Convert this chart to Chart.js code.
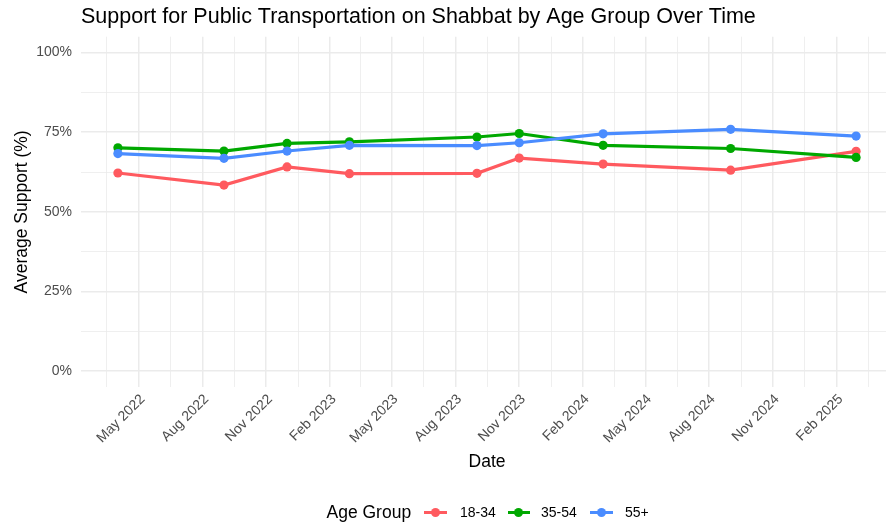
<!DOCTYPE html>
<html>
<head>
<meta charset="utf-8">
<script src="https://cdn.jsdelivr.net/npm/chart.js@4.4.1/dist/chart.umd.min.js"></script>
<style>
  html, body { margin: 0; padding: 0; background: #ffffff; }
  #wrap { position: relative; width: 886px; height: 524px; overflow: hidden; }
  #c { position: absolute; left: 0; top: 0; }
  .lg { position: absolute; font-family: "Liberation Sans", Arial, sans-serif; color: #000; white-space: nowrap; }
  .lg-title { font-size: 17.5px; line-height: 20px; top: 502px; }
  .lg-text { font-size: 14px; line-height: 16px; top: 504px; }
  .lg-line { position: absolute; height: 3px; top: 510.5px; width: 22.4px; }
  .lg-dot { position: absolute; width: 9px; height: 9px; border-radius: 50%; top: 507.5px; }
</style>
</head>
<body>
<div id="wrap">
  <canvas id="c" width="900" height="524"></canvas>
  <div id="legend"></div>
</div>
<script>
// ---- data ----
const dates = ['2022-04-01','2022-09-01','2022-12-01','2023-03-01','2023-09-01','2023-11-01','2024-03-01','2024-09-01','2025-03-01'];
const groups = ['18-34', '35-54', '55+'];
const support_18_34 = [62.2, 58.4, 64.1, 62.0, 62.1, 66.9, 65.0, 63.1, 69.0];
const support_35_54 = [70.1, 69.1, 71.5, 72.0, 73.5, 74.6, 70.9, 69.9, 67.1];
const support_55plus = [68.3, 66.8, 69.1, 70.9, 70.8, 71.7, 74.5, 75.9, 73.8];
const tickDates = ['2022-05-01','2022-08-01','2022-11-01','2023-02-01','2023-05-01','2023-08-01','2023-11-01','2024-02-01','2024-05-01','2024-08-01','2024-11-01','2025-02-01'];
const tickLabels = ['May 2022','Aug 2022','Nov 2022','Feb 2023','May 2023','Aug 2023','Nov 2023','Feb 2024','May 2024','Aug 2024','Nov 2024','Feb 2025'];
const yTickValues = [0, 25, 50, 75, 100];
const colors = ['#FF5A5F', '#00A800', '#4A8CFF'];

// ---- helpers ----
const toDay = s => Date.parse(s + 'T00:00:00Z') / 86400000;
const xs = dates.map(toDay);
const series = [support_18_34, support_35_54, support_55plus];
const xMinData = xs[0], xMaxData = xs[xs.length - 1];
const xPad = (xMaxData - xMinData) * 0.05;
const xMin = xMinData - xPad, xMax = xMaxData + xPad;
const yMin = -5, yMax = 105;

const majorX = tickDates.map(toDay);
const extX = [2 * majorX[0] - majorX[1], ...majorX, 2 * majorX[majorX.length - 1] - majorX[majorX.length - 2]];
const minorX = [];
for (let i = 0; i < extX.length - 1; i++) minorX.push((extX[i] + extX[i + 1]) / 2);
const xTicks = [];
majorX.forEach((v, i) => xTicks.push({ value: v, major: true, label: tickLabels[i] }));
minorX.filter(v => v > xMin && v < xMax).forEach(v => xTicks.push({ value: v, major: false, label: '' }));
xTicks.sort((a, b) => a.value - b.value);

const yTicks = [];
yTickValues.forEach(v => yTicks.push({ value: v, major: true, label: v + '%' }));
for (let i = 0; i < yTickValues.length - 1; i++) yTicks.push({ value: (yTickValues[i] + yTickValues[i + 1]) / 2, major: false, label: '' });
yTicks.sort((a, b) => a.value - b.value);

const FONT = '"Liberation Sans", Arial, sans-serif';
const PAD_L = 8;

const datasets = [];
// lines first (drawn underneath), then points on top (like ggplot layers)
series.forEach((vals, i) => {
  datasets.push({
    label: groups[i],
    data: vals.map((v, j) => ({ x: xs[j], y: v })),
    borderColor: colors[i],
    backgroundColor: colors[i],
    borderWidth: 3.2,
    pointRadius: 0,
    tension: 0,
    fill: false,
    order: 10 - i
  });
});
series.forEach((vals, i) => {
  datasets.push({
    label: groups[i] + ' points',
    data: vals.map((v, j) => ({ x: xs[j], y: v })),
    showLine: false,
    pointRadius: 4.6,
    pointBorderWidth: 0,
    pointBackgroundColor: colors[i],
    borderColor: colors[i],
    order: 5 - i
  });
});

new Chart(document.getElementById('c'), {
  type: 'line',
  data: { datasets },
  options: {
    responsive: false,
    animation: false,
    devicePixelRatio: 1,
    layout: { padding: { left: PAD_L, right: 7, top: 0, bottom: 36 } },
    plugins: {
      legend: { display: false },
      tooltip: { enabled: false },
      title: {
        display: true,
        text: 'Support for Public Transportation on Shabbat by Age Group Over Time',
        align: 'start',
        fullSize: false,
        color: '#000000',
        font: { family: FONT, size: 21.5, weight: 'normal', lineHeight: 1.2 },
        padding: { top: 4.4, bottom: 6.5 }
      }
    },
    scales: {
      x: {
        type: 'linear',
        min: xMin,
        max: xMax,
        afterBuildTicks: s => { s.ticks = xTicks.map(t => ({ value: t.value, major: t.major, label: t.label })); },
        afterFit: s => { s.height = 101; s.paddingLeft = 0; s.paddingRight = 0; },
        grid: {
          color: '#EBEBEB',
          lineWidth: c => (c.tick && c.tick.major) ? 1.5 : 0.8,
          drawTicks: false
        },
        border: { display: false },
        ticks: {
          autoSkip: false,
          minRotation: 45,
          maxRotation: 45,
          padding: 4,
          labelOffset: 4,
          color: '#4D4D4D',
          font: { family: FONT, size: 14 },
          callback: function (value, index, ticks) { return ticks[index].label; }
        },
        title: {
          display: true,
          text: 'Date',
          color: '#000000',
          font: { family: FONT, size: 17.5, lineHeight: 1.2 },
          padding: { top: 0, bottom: 15 }
        }
      },
      y: {
        type: 'linear',
        min: yMin,
        max: yMax,
        afterBuildTicks: s => { s.ticks = yTicks.map(t => ({ value: t.value, major: t.major, label: t.label })); },
        afterFit: s => { s.width = 81 - PAD_L; },
        grid: {
          color: '#EBEBEB',
          lineWidth: c => (c.tick && c.tick.major) ? 1.5 : 0.8,
          drawTicks: false
        },
        border: { display: false },
        ticks: {
          autoSkip: false,
          padding: 9,
          color: '#4D4D4D',
          font: { family: FONT, size: 14 },
          callback: function (value, index, ticks) { return ticks[index].label; }
        },
        title: {
          display: true,
          text: 'Average Support (%)',
          color: '#000000',
          font: { family: FONT, size: 17.5, lineHeight: 1.2 },
          padding: { top: 3.2, bottom: 0 }
        }
      }
    }
  }
});

// ---- legend (HTML text) ----
const legend = document.getElementById('legend');
function addEl(cls, left, text, color) {
  const d = document.createElement('div');
  d.className = cls;
  d.style.left = left + 'px';
  if (text !== undefined && text !== null) d.textContent = text;
  if (color) d.style.background = color;
  legend.appendChild(d);
}
addEl('lg lg-title', 326.5, 'Age Group');
const keyLeft = [424.3, 507.5, 590.2];
const textLeft = [460, 541, 625];
groups.forEach((g, i) => {
  addEl('lg-line', keyLeft[i], null, colors[i]);
  addEl('lg-dot', keyLeft[i] + 11.2 - 4.5, null, colors[i]);
  addEl('lg lg-text', textLeft[i], g);
});
</script>
</body>
</html>
